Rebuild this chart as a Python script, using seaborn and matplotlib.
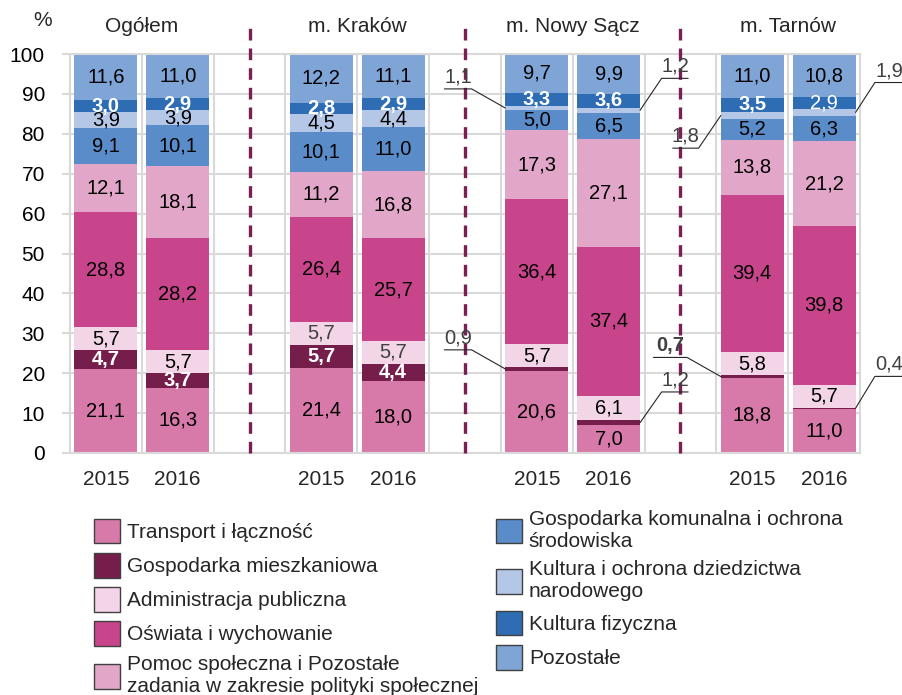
import numpy as np
import pandas as pd
import matplotlib
matplotlib.use("Agg")
import matplotlib.pyplot as plt
from matplotlib.patches import Patch
import seaborn as sns

# dane: struktura wydatków (%), kolejność od dołu słupka
groups = ["Ogółem", "m. Kraków", "m. Nowy Sącz", "m. Tarnów"]
years = ["2015", "2016"]
categories = [
    "Transport i łączność",
    "Gospodarka mieszkaniowa",
    "Administracja publiczna",
    "Oświata i wychowanie",
    "Pomoc społeczna i Pozostałe\nzadania w zakresie polityki społecznej",
    "Gospodarka komunalna i ochrona\nśrodowiska",
    "Kultura i ochrona dziedzictwa\nnarodowego",
    "Kultura fizyczna",
    "Pozostałe",
]
transport = [21.1, 16.3, 21.4, 18.0, 20.6, 7.0, 18.8, 11.0]
mieszkaniowa = [4.7, 3.7, 5.7, 4.4, 0.9, 1.2, 0.7, 0.4]
administracja = [5.7, 5.7, 5.7, 5.7, 5.7, 6.1, 5.8, 5.7]
oswiata = [28.8, 28.2, 26.4, 25.7, 36.4, 37.4, 39.4, 39.8]
pomoc = [12.1, 18.1, 11.2, 16.8, 17.3, 27.1, 13.8, 21.2]
komunalna = [9.1, 10.1, 10.1, 11.0, 5.0, 6.5, 5.2, 6.3]
kultura_dzied = [3.9, 3.9, 4.5, 4.4, 1.1, 1.2, 1.8, 1.9]
kultura_fiz = [3.0, 2.9, 2.8, 2.9, 3.3, 3.6, 3.5, 2.9]
pozostale = [11.6, 11.0, 12.2, 11.1, 9.7, 9.9, 11.0, 10.8]

colors = ["#d77aaa", "#751d4b", "#f3d5e8", "#c8458b", "#e2a6c8",
          "#5a8cc9", "#b4c7e7", "#2e6db4", "#7fa5d7"]

series = [transport, mieszkaniowa, administracja, oswiata, pomoc,
          komunalna, kultura_dzied, kultura_fiz, pozostale]

# kolejność slotów na osi x (z pustymi miejscami między grupami)
slot_order = []
for gi, g in enumerate(groups):
    for y in years:
        slot_order.append(f"{g} {y}")
    if gi < len(groups) - 1:
        slot_order.append(f"_gap{gi}")
bar_names = [f"{g} {y}" for g in groups for y in years]

rows = []
for ci, cat in enumerate(categories):
    for bi, name in enumerate(bar_names):
        rows.append({"bar": name, "kat": ci, "val": series[ci][bi]})
df = pd.DataFrame(rows)
df["cum"] = df.groupby("bar")["val"].cumsum()

sns.set_style("white")
plt.rcParams["font.family"] = ["Liberation Sans", "DejaVu Sans"]

fig = plt.figure(figsize=(9.03, 6.95), dpi=100)
ax = fig.add_axes([70 / 903, 1 - 453 / 695, 790 / 903, 399 / 695])

W = 0.875
# słupki skumulowane: od najwyższej warstwy w dół
for ci in reversed(range(len(categories))):
    sub = df[df["kat"] == ci]
    sns.barplot(data=sub, x="bar", y="cum", order=slot_order, color=colors[ci],
                saturation=1, width=W, errorbar=None, linewidth=0, ax=ax, zorder=2)

xpos = {name: slot_order.index(name) for name in bar_names}

# etykiety wewnątrz segmentów
white_bold = {1, 7}
small_out = {(4, 1), (4, 6), (5, 1), (5, 6), (6, 1), (6, 6), (7, 1), (7, 6)}
for _, r in df.iterrows():
    bi = bar_names.index(r["bar"])
    ci = int(r["kat"])
    if (bi, ci) in small_out:
        continue
    txt = f"{r['val']:.1f}".replace(".", ",")
    col, fw = "black", "normal"
    if ci in white_bold:
        col, fw = "white", "bold"
        if bi == 7:
            fw = "normal"
    if ci == 2 and bi in (2, 3):
        col = "#404040"
    ax.text(xpos[r["bar"]], r["cum"] - r["val"] / 2, txt, ha="center", va="center",
            fontsize=14.5, color=col, fontweight=fw, zorder=5)

# małe wartości z odnośnikami: (słupek, kategoria, strona, przesunięcie łokcia, długość, dy)
leaders = [
    (4, 1, -1, 0.47, 0.38, 4.8, "normal"),
    (4, 6, -1, 0.47, 0.38, 4.8, "normal"),
    (5, 1, 1, 0.30, 0.37, 7.7, "normal"),
    (5, 6, 1, 0.30, 0.37, 8.0, "normal"),
    (6, 1, -1, 0.47, 0.47, 4.8, "bold"),
    (6, 6, -1, 0.31, 0.36, -8.2, "normal"),
    (7, 1, 1, 0.27, 0.40, 8.0, "normal"),
    (7, 6, 1, 0.27, 0.40, 7.5, "normal"),
]
for bi, ci, side, dxe, dl, dy, fw in leaders:
    r = df[(df["bar"] == bar_names[bi]) & (df["kat"] == ci)].iloc[0]
    x0 = xpos[bar_names[bi]] + side * W / 2
    ym = r["cum"] - r["val"] / 2
    xe = x0 + side * dxe
    x1 = xe + side * dl
    ye = ym + dy
    ax.plot([x0, xe, x1], [ym, ye, ye], color="#262626", lw=0.8, clip_on=False, zorder=6)
    ax.text((xe + x1) / 2, ye + 0.6, f"{r['val']:.1f}".replace(".", ","),
            ha="center", va="bottom", fontsize=14.5, color="#404040", fontweight=fw,
            clip_on=False, zorder=6)

# przerywane separatory grup
gap_x = [i for i, s in enumerate(slot_order) if s.startswith("_gap")]
ax.vlines(gap_x, 0, 108, colors="#7b1f52", linewidth=2.4,
          linestyles=(0, (3.5, 2.4)), clip_on=False, zorder=3)

# tytuły grup
for gi, g in enumerate(groups):
    cx = np.mean([xpos[f"{g} {y}"] for y in years])
    ax.text(cx, 106.8, g, ha="center", va="center", fontsize=15, clip_on=False)
fig.text(43 / 903, 1 - 20 / 695, "%", ha="center", va="center", fontsize=15)

# osie i siatka
ax.set_ylim(0, 100)
ax.set_xlim(-0.5, len(slot_order) - 0.5)
ax.set_yticks(range(0, 101, 10))
ax.set_xticks(range(len(slot_order)))
ax.set_xticklabels(["" if s.startswith("_gap") else s.split()[-1] for s in slot_order])
ax.set_xticks(np.arange(-0.5, len(slot_order), 1), minor=True)
ax.set_xlabel("")
ax.set_ylabel("")
ax.set_axisbelow(True)
ax.yaxis.grid(True, color="#d9d9d9", lw=1.5)
ax.xaxis.grid(True, which="minor", color="#d9d9d9", lw=1.5)
ax.xaxis.grid(False, which="major")
for sp in ax.spines.values():
    sp.set_color("#d9d9d9")
    sp.set_linewidth(1.5)
ax.tick_params(axis="y", length=6, width=1.5, color="#d9d9d9", labelsize=15, pad=12,
               labelcolor="black", left=True)
ax.tick_params(axis="x", which="both", length=0, labelsize=15, pad=12)

# legenda
handles = [Patch(facecolor=c, edgecolor="#404040", linewidth=1) for c in colors]
fig.legend(handles, categories, ncol=2, loc="upper left",
           bbox_to_anchor=(94 / 903, 1 - 510 / 695), frameon=False, fontsize=15,
           handlelength=1.25, handleheight=1.45, handletextpad=0.33,
           columnspacing=0.85, labelspacing=0.45, borderpad=0, borderaxespad=0)

fig.savefig("out.png", dpi=100)
